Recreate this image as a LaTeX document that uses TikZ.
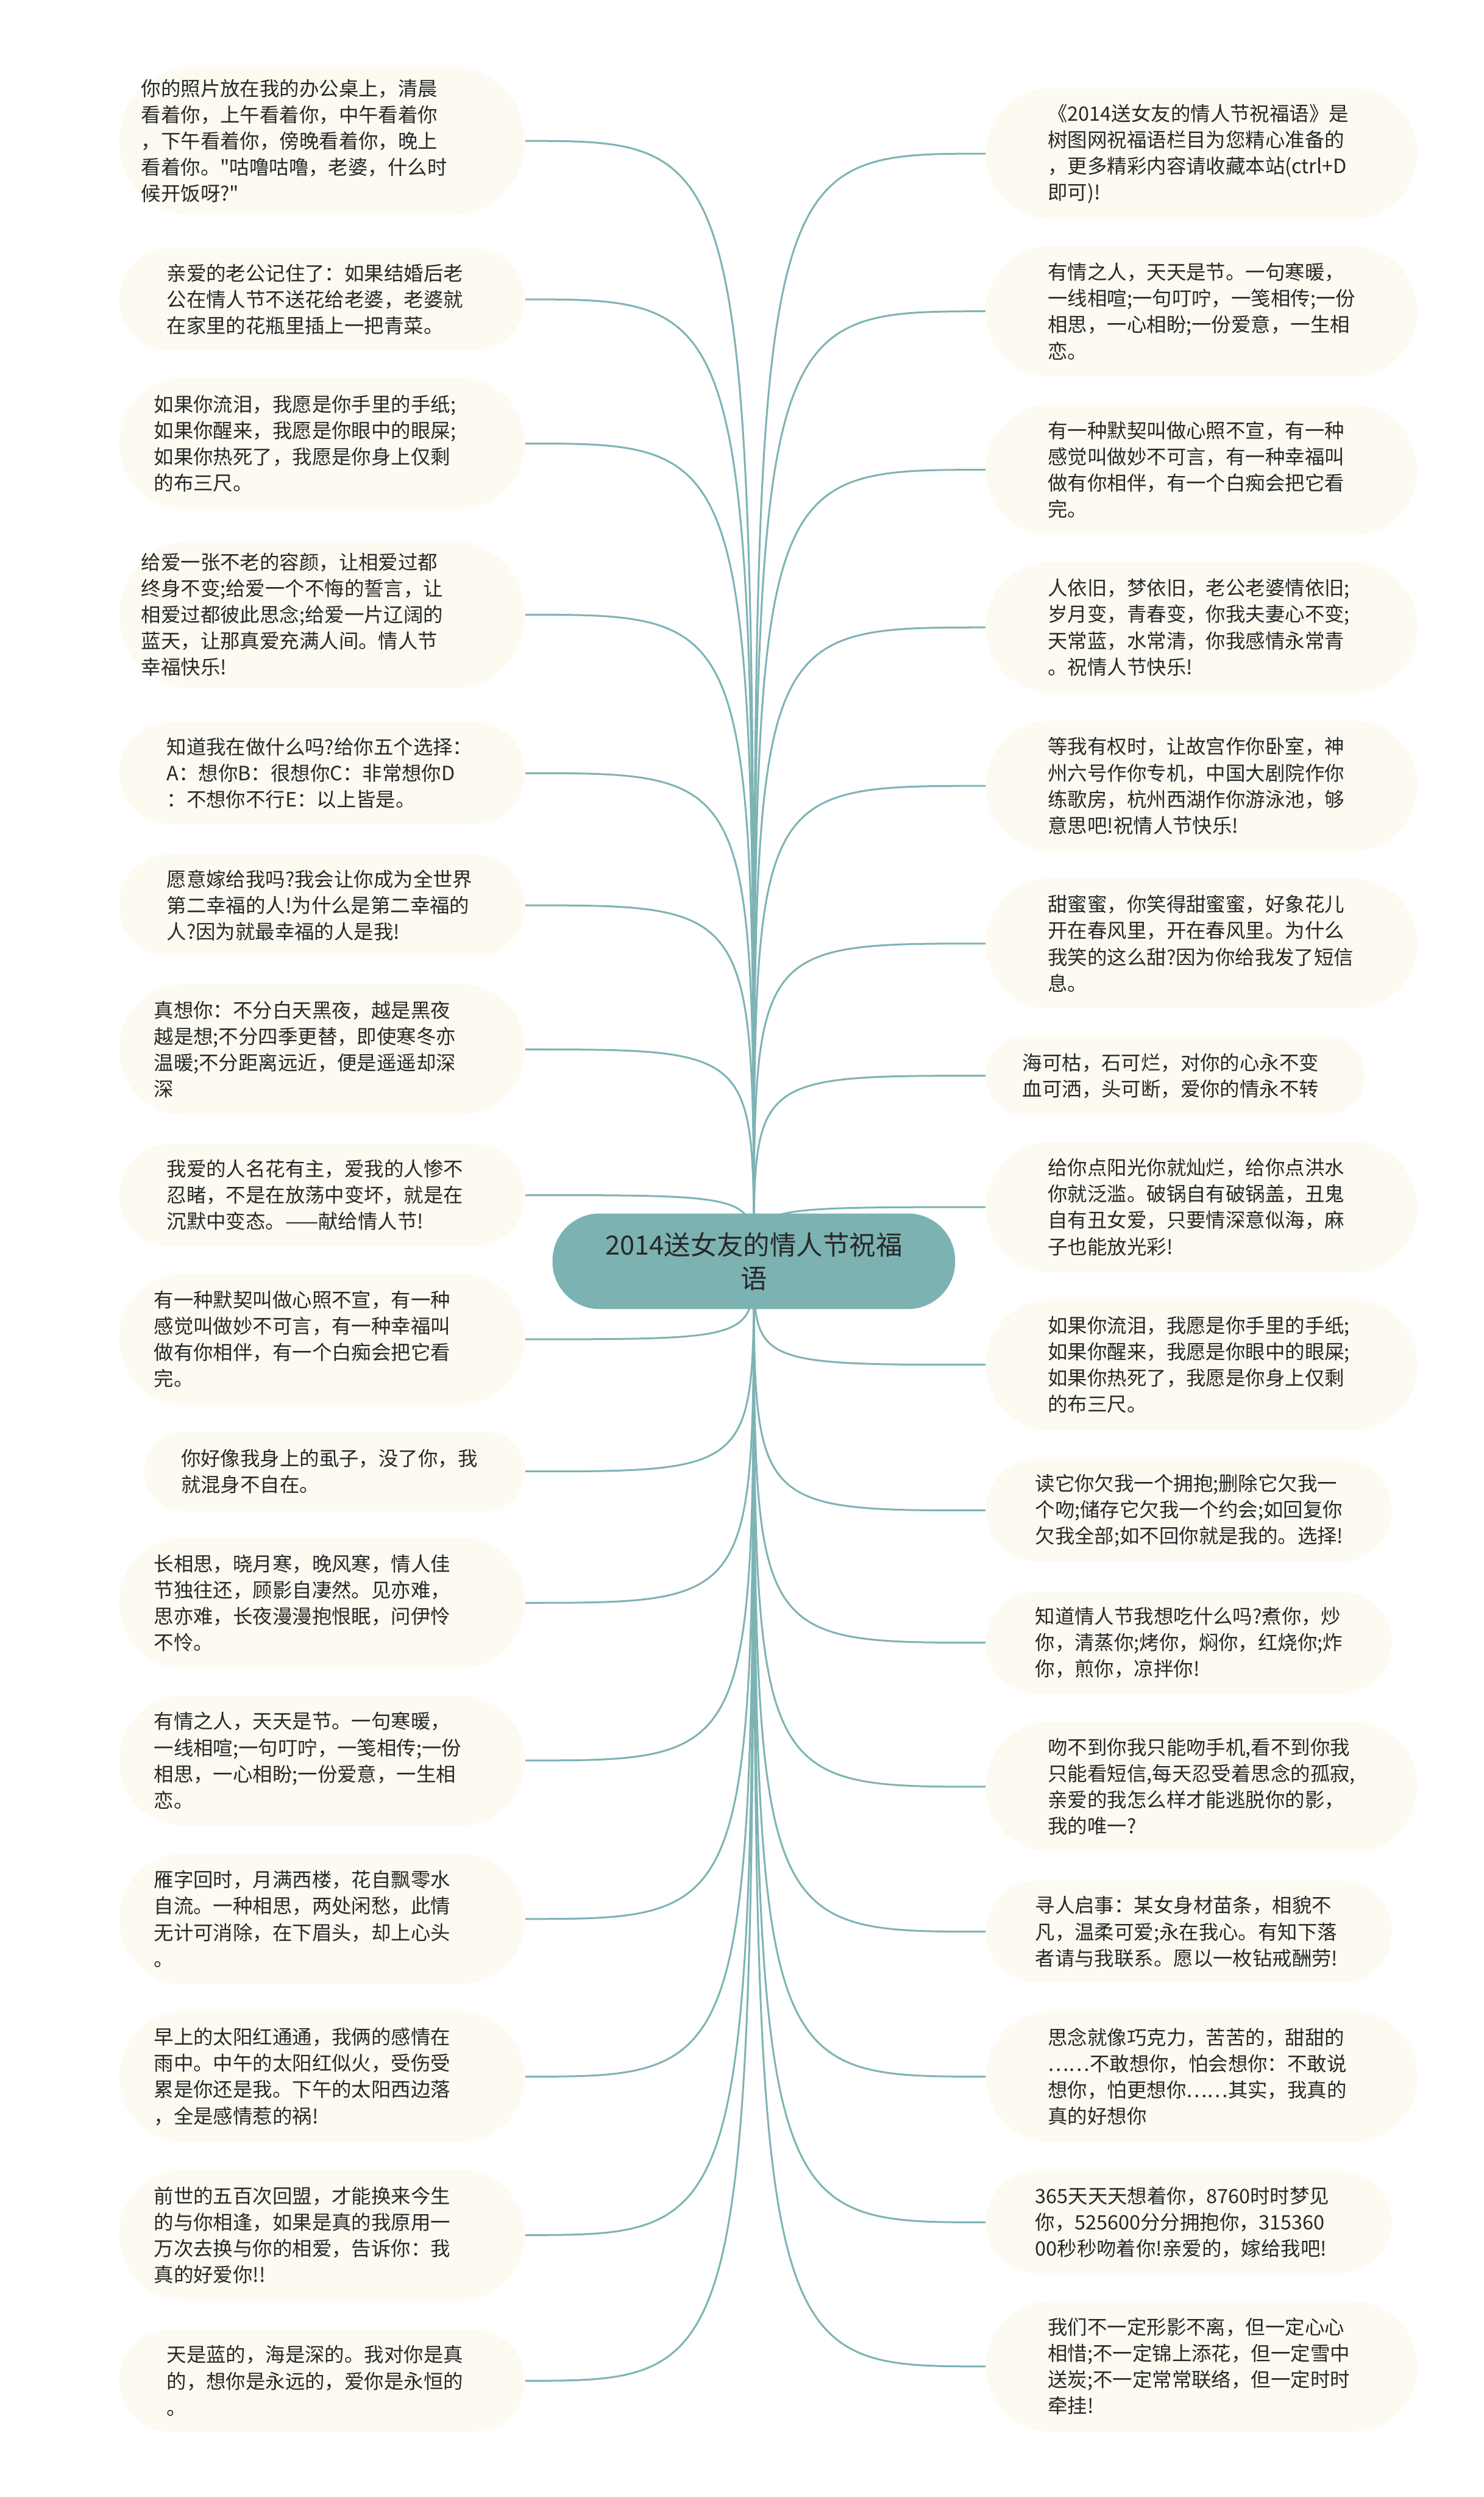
\documentclass[tikz,border=0pt]{standalone}
\usepackage{fontspec}
\setmainfont{Noto Sans CJK SC}
\usepackage{xcolor}
\usetikzlibrary{backgrounds}
\definecolor{leafcream}{RGB}{253,251,241}
\definecolor{rootteal} {RGB}{124,178,178}
\definecolor{linkteal} {RGB}{126,179,180}
\definecolor{inkgray}  {RGB}{40,40,40}
\newcommand\leaffont{\fontsize{9.7pt}{12.9pt}\selectfont}
\newcommand\rootfont{\fontsize{13pt}{16.4pt}\selectfont}
\tikzset{
  leaf/.style       = {fill=leafcream, text=inkgray, font=\leaffont,
                       align=left, inner ysep=2pt},
  leaf left/.style  = {leaf, anchor=east},
  leaf right/.style = {leaf, anchor=west},
  leaf size/.code 2 args = {%
    \pgfmathsetlengthmacro\leafsep{#2*0.7816pt}%
    \pgfmathsetlengthmacro\leaftw{(#1-2*#2)*0.7816pt}%
    \tikzset{inner xsep=\leafsep, text width=\leaftw}},
  two rows/.style   = {minimum height=39.1pt, rounded corners=19.4pt},
  three rows/.style = {minimum height=50.0pt, rounded corners=24.8pt},
  four rows/.style  = {minimum height=64.1pt, rounded corners=31.8pt},
  five rows/.style  = {minimum height=72.7pt, rounded corners=36.1pt},
  root/.style       = {fill=rootteal, text=inkgray, font=\rootfont, align=center,
                       minimum width=197.7pt, minimum height=46.9pt,
                       rounded corners=23.2pt, inner sep=2pt},
  link/.style       = {linkteal, line width=0.9pt},
}

\begin{document}
\begin{tikzpicture}[x=0.7816pt, y=-0.7816pt]

  \useasboundingbox (0,0) rectangle (932,1568);

  % ── centre ─────────────────────────────────────────────────────────────
  \node[root] (root) at (473.5,792) {2014送女友的情人节祝福\\语};

  % ── left column ────────────────────────────────────────────────────────
  \node[leaf left, five rows, leaf size={255}{14}] (L1) at (330,88.5)
    {你的照片放在我的办公桌上，清晨\\看着你，上午看着你，中午看着你\\，下午看着你，傍晚看着你，晚上\\看着你。\textquotedbl 咕噜咕噜，老婆，什么时\\候开饭呀?\textquotedbl};
  \node[leaf left, three rows, leaf size={255}{30}] (L2) at (330,188)
    {亲爱的老公记住了：如果结婚后老\\公在情人节不送花给老婆，老婆就\\在家里的花瓶里插上一把青菜。};
  \node[leaf left, four rows, leaf size={255}{22}] (L3) at (330,278.5)
    {如果你流泪，我愿是你手里的手纸;\\如果你醒来，我愿是你眼中的眼屎;\\如果你热死了，我愿是你身上仅剩\\的布三尺。};
  \node[leaf left, five rows, leaf size={255}{14}] (L4) at (330,386)
    {给爱一张不老的容颜，让相爱过都\\终身不变;给爱一个不悔的誓言，让\\相爱过都彼此思念;给爱一片辽阔的\\蓝天，让那真爱充满人间。情人节\\幸福快乐!};
  \node[leaf left, three rows, leaf size={255}{30}] (L5) at (330,485.5)
    {知道我在做什么吗?给你五个选择：\\A：想你B：很想你C：非常想你D\\：不想你不行E：以上皆是。};
  \node[leaf left, three rows, leaf size={255}{30}] (L6) at (330,568.5)
    {愿意嫁给我吗?我会让你成为全世界\\第二幸福的人!为什么是第二幸福的\\人?因为就最幸福的人是我!};
  \node[leaf left, four rows, leaf size={255}{22}] (L7) at (330,659)
    {真想你：不分白天黑夜，越是黑夜\\越是想;不分四季更替，即使寒冬亦\\温暖;不分距离远近，便是遥遥却深\\深};
  \node[leaf left, three rows, leaf size={255}{30}] (L8) at (330,750.5)
    {我爱的人名花有主，爱我的人惨不\\忍睹，不是在放荡中变坏，就是在\\沉默中变态。——献给情人节!};
  \node[leaf left, four rows, leaf size={255}{22}] (L9) at (330,841)
    {有一种默契叫做心照不宣，有一种\\感觉叫做妙不可言，有一种幸福叫\\做有你相伴，有一个白痴会把它看\\完。};
  \node[leaf left, two rows, leaf size={239}{23}] (L10) at (330,924)
    {你好像我身上的虱子，没了你，我\\就混身不自在。};
  \node[leaf left, four rows, leaf size={255}{22}] (L11) at (330,1006.5)
    {长相思，晓月寒，晚风寒，情人佳\\节独往还，顾影自凄然。见亦难，\\思亦难，长夜漫漫抱恨眠，问伊怜\\不怜。};
  \node[leaf left, four rows, leaf size={255}{22}] (L12) at (330,1105.5)
    {有情之人，天天是节。一句寒暖，\\一线相喧;一句叮咛，一笺相传;一份\\相思，一心相盼;一份爱意，一生相\\恋。};
  \node[leaf left, four rows, leaf size={255}{22}] (L13) at (330,1205)
    {雁字回时，月满西楼，花自飘零水\\自流。一种相思，两处闲愁，此情\\无计可消除，在下眉头，却上心头\\。};
  \node[leaf left, four rows, leaf size={255}{22}] (L14) at (330,1304)
    {早上的太阳红通通，我俩的感情在\\雨中。中午的太阳红似火，受伤受\\累是你还是我。下午的太阳西边落\\，全是感情惹的祸!};
  \node[leaf left, four rows, leaf size={255}{22}] (L15) at (330,1403.5)
    {前世的五百次回盟，才能换来今生\\的与你相逢，如果是真的我原用一\\万次去换与你的相爱，告诉你：我\\真的好爱你!!};
  \node[leaf left, three rows, leaf size={255}{30}] (L16) at (330,1495)
    {天是蓝的，海是深的。我对你是真\\的，想你是永远的，爱你是永恒的\\。};

  % ── right column ───────────────────────────────────────────────────────
  \node[leaf right, four rows, leaf size={271}{39}] (R1) at (619,96.5)
    {《2014送女友的情人节祝福语》是\\树图网祝福语栏目为您精心准备的\\，更多精彩内容请收藏本站(ctrl+D\\即可)!};
  \node[leaf right, four rows, leaf size={271}{39}] (R2) at (619,195.5)
    {有情之人，天天是节。一句寒暖，\\一线相喧;一句叮咛，一笺相传;一份\\相思，一心相盼;一份爱意，一生相\\恋。};
  \node[leaf right, four rows, leaf size={271}{39}] (R3) at (619,295)
    {有一种默契叫做心照不宣，有一种\\感觉叫做妙不可言，有一种幸福叫\\做有你相伴，有一个白痴会把它看\\完。};
  \node[leaf right, four rows, leaf size={271}{39}] (R4) at (619,394)
    {人依旧，梦依旧，老公老婆情依旧;\\岁月变，青春变，你我夫妻心不变;\\天常蓝，水常清，你我感情永常青\\。祝情人节快乐!};
  \node[leaf right, four rows, leaf size={271}{39}] (R5) at (619,493.5)
    {等我有权时，让故宫作你卧室，神\\州六号作你专机，中国大剧院作你\\练歌房，杭州西湖作你游泳池，够\\意思吧!祝情人节快乐!};
  \node[leaf right, four rows, leaf size={271}{39}] (R6) at (619,592.5)
    {甜蜜蜜，你笑得甜蜜蜜，好象花儿\\开在春风里，开在春风里。为什么\\我笑的这么甜?因为你给我发了短信\\息。};
  \node[leaf right, two rows, leaf size={238}{23}] (R7) at (619,675.5)
    {海可枯，石可烂，对你的心永不变\\血可洒，头可断，爱你的情永不转};
  \node[leaf right, four rows, leaf size={271}{39}] (R8) at (619,758)
    {给你点阳光你就灿烂，给你点洪水\\你就泛滥。破锅自有破锅盖，丑鬼\\自有丑女爱，只要情深意似海，麻\\子也能放光彩!};
  \node[leaf right, four rows, leaf size={271}{39}] (R9) at (619,857)
    {如果你流泪，我愿是你手里的手纸;\\如果你醒来，我愿是你眼中的眼屎;\\如果你热死了，我愿是你身上仅剩\\的布三尺。};
  \node[leaf right, three rows, leaf size={255}{31}] (R10) at (619,948.5)
    {读它你欠我一个拥抱;删除它欠我一\\个吻;储存它欠我一个约会;如回复你\\欠我全部;如不回你就是我的。选择!};
  \node[leaf right, three rows, leaf size={255}{31}] (R11) at (619,1031.5)
    {知道情人节我想吃什么吗?煮你，炒\\你，清蒸你;烤你，焖你，红烧你;炸\\你，煎你，凉拌你!};
  \node[leaf right, four rows, leaf size={271}{39}] (R12) at (619,1122)
    {吻不到你我只能吻手机,看不到你我\\只能看短信,每天忍受着思念的孤寂,\\亲爱的我怎么样才能逃脱你的影，\\我的唯一?};
  \node[leaf right, three rows, leaf size={255}{31}] (R13) at (619,1213)
    {寻人启事：某女身材苗条，相貌不\\凡，温柔可爱;永在我心。有知下落\\者请与我联系。愿以一枚钻戒酬劳!};
  \node[leaf right, four rows, leaf size={271}{39}] (R14) at (619,1304)
    {思念就像巧克力，苦苦的，甜甜的\\……不敢想你，怕会想你：不敢说\\想你，怕更想你……其实，我真的\\真的好想你};
  \node[leaf right, three rows, leaf size={255}{31}] (R15) at (619,1395.5)
    {365天天天想着你，8760时时梦见\\你，525600分分拥抱你，315360\\00秒秒吻着你!亲爱的，嫁给我吧!};
  \node[leaf right, four rows, leaf size={271}{39}] (R16) at (619,1486)
    {我们不一定形影不离，但一定心心\\相惜;不一定锦上添花，但一定雪中\\送炭;不一定常常联络，但一定时时\\牵挂!};

  % ── links (behind everything) ──────────────────────────────────────────
  \begin{scope}[on background layer]
    \fill[white] (0,0) rectangle (932,1568);
    \foreach \i in {1,...,16}{
      \draw[link] (root.center) .. controls (root.center |- L\i.east) .. (L\i.east);
      \draw[link] (root.center) .. controls (root.center |- R\i.west) .. (R\i.west);
    }
  \end{scope}

\end{tikzpicture}
\end{document}
